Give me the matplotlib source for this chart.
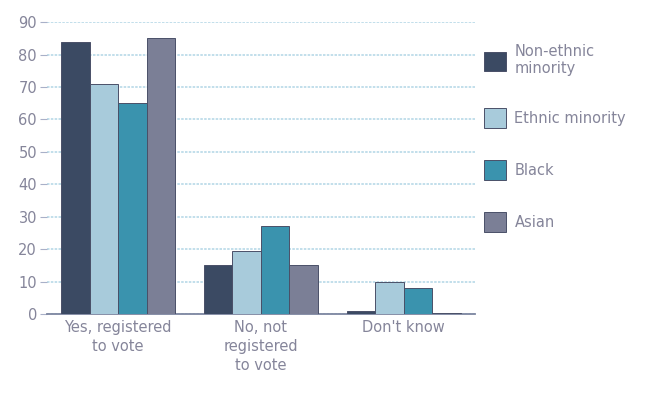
import matplotlib.pyplot as plt
import numpy as np

categories = ["Yes, registered\nto vote", "No, not\nregistered\nto vote", "Don't know"]
series_names = ["Non-ethnic\nminority", "Ethnic minority", "Black", "Asian"]
non_ethnic = [84, 15, 1]
ethnic = [71, 19.5, 10]
black = [65, 27, 8]
asian = [85, 15, 0.3]
colors = ["#3b4a63", "#a8cbdb", "#3a93ae", "#7b7f96"]
yticks = list(range(0, 91, 10))

text_color = "#85859a"

fig = plt.figure(figsize=(6.69, 3.95), dpi=100)
ax = fig.add_axes([0.070, 0.205, 0.640, 0.739])

x = np.arange(len(categories))
width = 0.2
for i, (vals, name) in enumerate(zip([non_ethnic, ethnic, black, asian], series_names)):
    ax.bar(x + (i - 1.5) * width, vals, width, color=colors[i], edgecolor="#4a5068",
           linewidth=0.7, label=name, zorder=3)

ax.set_xlim(-0.5, 2.5)
ax.set_ylim(0, 90)
ax.set_yticks(yticks)
ax.yaxis.grid(True, color="#b8d9e8", linestyle=(0, (1.5, 0.8)), linewidth=1.2, zorder=0)
ax.set_xticks(x)
ax.set_xticklabels(categories, color=text_color, fontsize=10.5, linespacing=1.35)
ax.tick_params(axis="x", length=0, pad=4)
ax.tick_params(axis="y", length=5, color="#a9b0c8", labelcolor=text_color, labelsize=10.5, pad=2)
for s in ["top", "right", "left"]:
    ax.spines[s].set_visible(False)
ax.spines["bottom"].set_color("#7d86a0")
ax.spines["bottom"].set_linewidth(1.3)

leg = ax.legend(loc="upper left", bbox_to_anchor=(0.99, 0.97), frameon=False,
                fontsize=10.5, labelspacing=2.2, handlelength=1.5, handleheight=1.7,
                handletextpad=0.6)
for t in leg.get_texts():
    t.set_color(text_color)

fig.savefig("out.png", dpi=100)
